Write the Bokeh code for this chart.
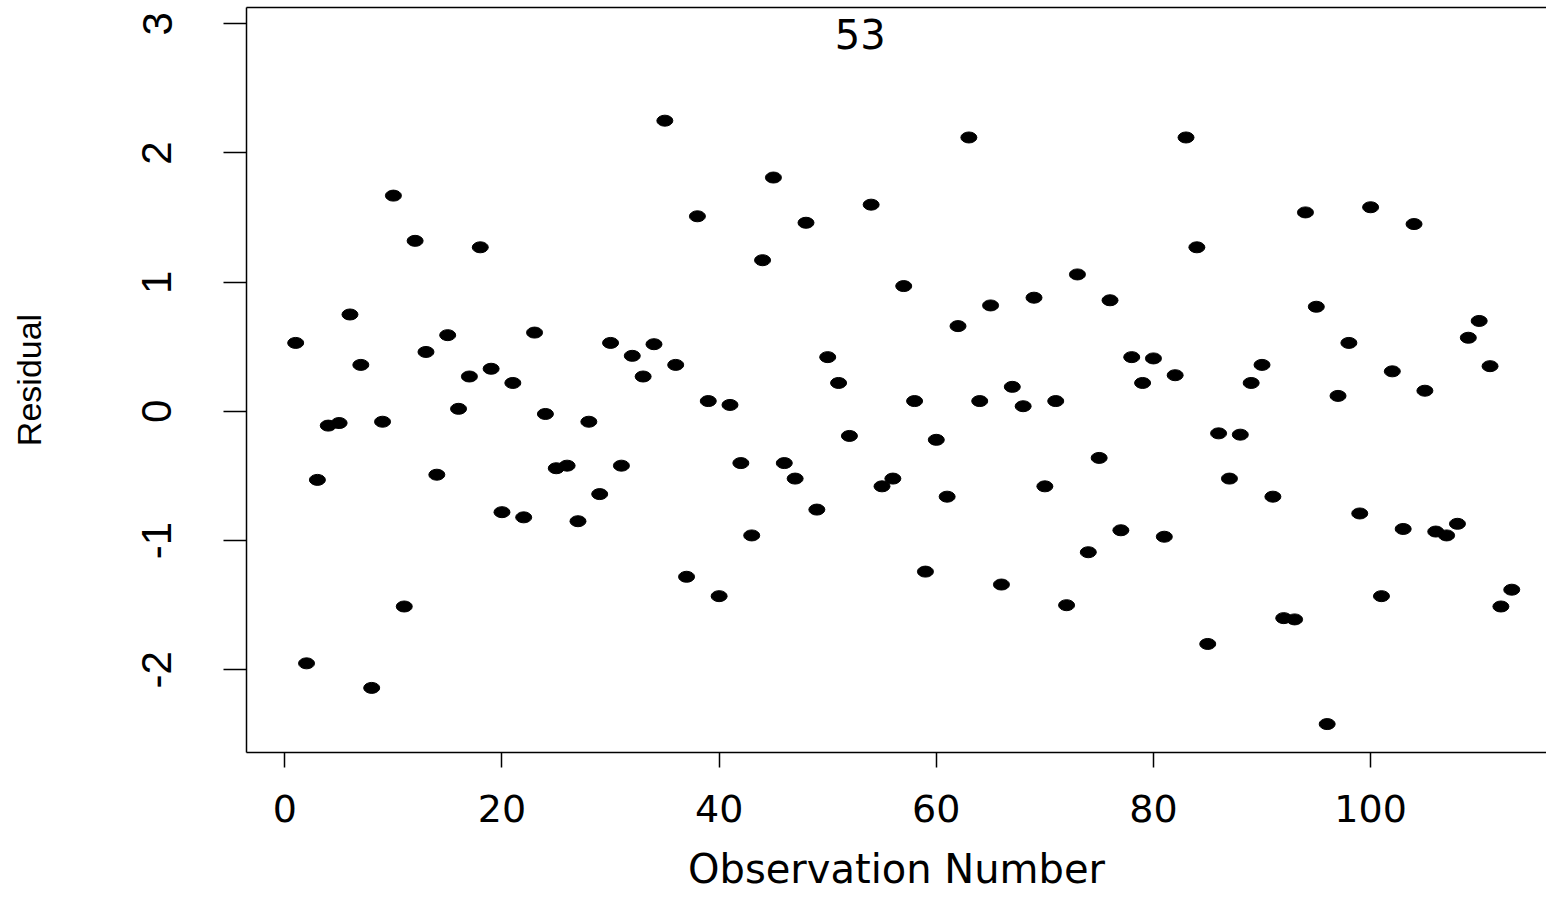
from bokeh.plotting import figure
from bokeh.models import Range1d, FixedTicker, LinearAxis, ColumnDataSource, Title
from bokeh.core.properties import value
from bokeh.embed import file_html
from bokeh.resources import INLINE

observation = list(range(1, 114))
residual = [
    0.53, -1.95, -0.53, -0.11, -0.09, 0.75, 0.36, -2.14, -0.08, 1.67,
    -1.51, 1.32, 0.46, -0.49, 0.59, 0.02, 0.27, 1.27, 0.33, -0.78,
    0.22, -0.82, 0.61, -0.02, -0.44, -0.42, -0.85, -0.08, -0.64, 0.53,
    -0.42, 0.43, 0.27, 0.52, 2.25, 0.36, -1.28, 1.51, 0.08, -1.43,
    0.05, -0.40, -0.96, 1.17, 1.81, -0.40, -0.52, 1.46, -0.76, 0.42,
    0.22, -0.19, 2.92, 1.60, -0.58, -0.52, 0.97, 0.08, -1.24, -0.22,
    -0.66, 0.66, 2.12, 0.08, 0.82, -1.34, 0.19, 0.04, 0.88, -0.58,
    0.08, -1.50, 1.06, -1.09, -0.36, 0.86, -0.92, 0.42, 0.22, 0.41,
    -0.97, 0.28, 2.12, 1.27, -1.80, -0.17, -0.52, -0.18, 0.22, 0.36,
    -0.66, -1.60, -1.61, 1.54, 0.81, -2.42, 0.12, 0.53, -0.79, 1.58,
    -1.43, 0.31, -0.91, 1.45, 0.16, -0.93, -0.96, -0.87, 0.57, 0.70,
    0.35, -1.51, -1.38,
]
labelled_obs = [53]
x_ticks = [0, 20, 40, 60, 80, 100]
y_ticks = [-2, -1, 0, 1, 2, 3]
y_tick_labels = ["-2", "-1", "0", "1", "2", "3"]
x_title = "Observation Number"
y_title = "Residual"

pts_x = [o for o in observation if o not in labelled_obs]
pts_y = [r for o, r in zip(observation, residual) if o not in labelled_obs]
lab_x = [o for o in observation if o in labelled_obs]
lab_y = [r for o, r in zip(observation, residual) if o in labelled_obs]
lab_t = [str(o) for o in lab_x]

p = figure(width=1546, height=910, output_backend="svg", toolbar_location=None,
           x_range=Range1d(-3.53, 116.2), y_range=Range1d(-2.640, 3.126),
           min_border_left=246, min_border_right=0, min_border_top=7,
           min_border_bottom=158)
p.grid.visible = False
p.outline_line_color = None
p.background_fill_color = "white"
p.border_fill_color = "white"

src = ColumnDataSource(dict(x=pts_x, y=pts_y))
p.ellipse(x="x", y="y", width=16, height=11, width_units="screen",
          height_units="screen", source=src, fill_color="black",
          line_color="black")
p.text(x=lab_x, y=lab_y, text=lab_t, text_align="center",
       text_baseline="middle", text_font=value("DejaVu Sans"),
       text_font_size="40px", text_color="black")

xa = p.xaxis[0]
xa.ticker = FixedTicker(ticks=x_ticks)
xa.minor_tick_line_color = None
xa.major_tick_out = 15
xa.major_tick_in = 0
xa.major_tick_line_width = 1.5
xa.axis_line_width = 1.5
xa.axis_line_color = "black"
xa.major_label_text_font = "DejaVu Sans"
xa.major_label_text_font_size = "38px"
xa.major_label_text_color = "black"
xa.major_label_standoff = 27

# thin spacer title to push the x title down
p.add_layout(Title(text=" ", text_font_size="2px", standoff=15), "below")
xt = Title(text=x_title, align="center", standoff=0,
           text_font="DejaVu Sans", text_font_size="40px",
           text_font_style="normal", text_color="black")
p.add_layout(xt, "below")

ya = p.yaxis[0]
ya.ticker = FixedTicker(ticks=y_ticks)
ya.major_label_overrides = {t: s for t, s in zip(y_ticks, y_tick_labels)}
ya.minor_tick_line_color = None
ya.major_tick_out = 23
ya.major_tick_in = 0
ya.major_tick_line_width = 1.5
ya.axis_line_width = 1.5
ya.axis_line_color = "black"
ya.major_label_orientation = "vertical"
ya.major_label_text_font = "Liberation Sans"
ya.major_label_text_font_size = "42px"
ya.major_label_text_color = "black"
ya.major_label_standoff = 52
ya.axis_label = y_title
ya.axis_label_text_font = "Liberation Sans"
ya.axis_label_text_font_size = "34px"
ya.axis_label_text_font_style = "normal"
ya.axis_label_text_color = "black"
ya.axis_label_standoff = 92

top = LinearAxis(ticker=FixedTicker(ticks=[]), major_label_text_font_size="0px",
                 major_tick_out=0, major_tick_in=0, minor_tick_out=0,
                 minor_tick_in=0, major_label_standoff=0,
                 axis_line_color="black", axis_line_width=1.5)
p.add_layout(top, "above")

open("out.html", "w").write(file_html(p, INLINE))
